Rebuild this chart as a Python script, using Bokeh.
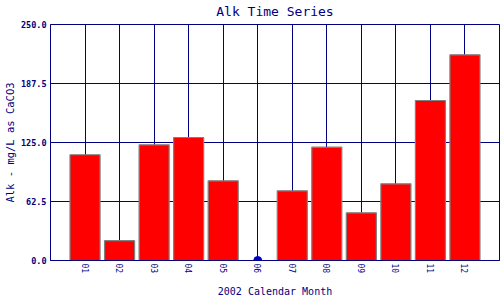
import math
from bokeh.plotting import figure
from bokeh.models import FixedTicker, PrintfTickFormatter, Range1d, LinearAxis
from bokeh.embed import file_html
from bokeh.resources import INLINE

title_text = "Alk Time Series"
months = ["01", "02", "03", "04", "05", "06", "07", "08", "09", "10", "11", "12"]
alk = [112.0, 21.0, 122.5, 130.3, 84.4, 0.0, 73.8, 120.0, 50.5, 81.2, 169.5, 217.9]
y_ticks = [0.0, 62.5, 125.0, 187.5, 250.0]

NAVY = "#000080"
FONT = "DejaVu Sans Mono"

xpos = list(range(1, len(months) + 1))
bar_x = [x for x, v in zip(xpos, alk) if v > 0]
bar_v = [v for v in alk if v > 0]
dot_x = [x for x, v in zip(xpos, alk) if v == 0]
dot_v = [v for v in alk if v == 0]

p = figure(width=500, height=300, output_backend="svg", toolbar_location=None,
           x_range=Range1d(0, len(months) + 1), y_range=Range1d(0, 250),
           min_border_left=10, min_border_right=1, min_border_top=24, min_border_bottom=10)

p.vbar(x=bar_x, top=bar_v, width=0.87, fill_color="#FF0000",
       line_color="#808080", line_width=1.2)
p.scatter(x=dot_x, y=dot_v, size=8, fill_color="#0000CC", line_color="#0000CC")

# title drawn as the label of a bare axis above the frame
top_axis = LinearAxis(ticker=FixedTicker(ticks=[]), axis_label=title_text,
                      axis_line_color=None, major_tick_line_color=None,
                      minor_tick_line_color=None, major_tick_out=0, major_tick_in=0,
                      minor_tick_out=0, minor_tick_in=0,
                      major_label_text_font_size="8px", major_label_standoff=0,
                      axis_label_standoff=6,
                      axis_label_text_line_height=1.0,
                      axis_label_text_font=FONT, axis_label_text_font_size="13px",
                      axis_label_text_font_style="normal", axis_label_text_color=NAVY)
p.add_layout(top_axis, "above")

p.outline_line_color = NAVY
p.outline_line_width = 1
p.outline_line_alpha = 1

xa = p.below[0]
ya = p.left[0]
xa.ticker = FixedTicker(ticks=xpos)
xa.major_label_overrides = {x: m for x, m in zip(xpos, months)}
xa.major_label_orientation = -math.pi / 2
ya.ticker = FixedTicker(ticks=y_ticks)
ya.formatter = PrintfTickFormatter(format="%.1f")

for ax in (xa, ya):
    ax.axis_line_color = NAVY
    ax.axis_line_width = 1
    ax.major_tick_line_color = None
    ax.minor_tick_line_color = None
    ax.major_tick_out = 0
    ax.major_tick_in = 0
    ax.minor_tick_out = 0
    ax.minor_tick_in = 0
    ax.major_label_text_color = NAVY
    ax.major_label_text_font = FONT
    ax.axis_label_text_color = NAVY
    ax.axis_label_text_font = FONT
    ax.axis_label_text_font_style = "normal"

xa.major_label_text_font_size = "8px"
xa.major_label_standoff = 3
ya.major_label_text_font_size = "8.5px"
ya.major_label_text_font_style = "bold"
ya.major_label_standoff = 4

xa.axis_label = "2002 Calendar Month"
xa.axis_label_text_font_size = "10px"
xa.axis_label_standoff = 10
ya.axis_label = "Alk - mg/L as CaCO3"
ya.axis_label_text_font_size = "10.5px"
ya.axis_label_standoff = 2

p.xgrid.grid_line_color = NAVY
p.ygrid.grid_line_color = NAVY
p.xgrid.grid_line_width = 1
p.ygrid.grid_line_width = 1
p.grid.level = "underlay"

p.background_fill_color = "white"
p.border_fill_color = "white"

open("out.html", "w").write(file_html(p, INLINE))
